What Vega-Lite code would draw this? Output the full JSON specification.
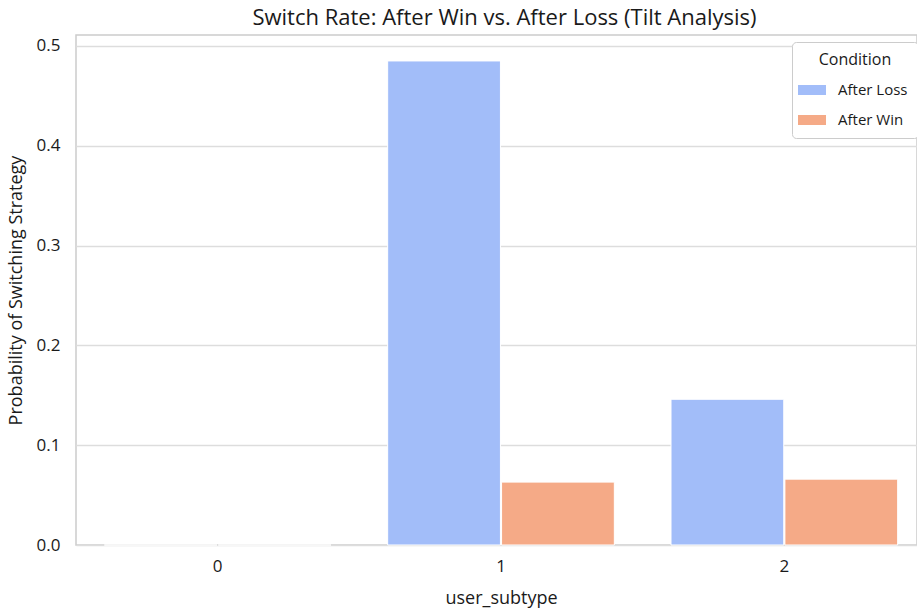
{
  "$schema": "https://vega.github.io/schema/vega-lite/v6.json",
  "width": 841,
  "height": 510,
  "autosize": {"type": "none"},
  "padding": {"left": 76, "top": 35, "right": 0, "bottom": 63},
  "background": "white",
  "title": {"text": "Switch Rate: After Win vs. After Loss (Tilt Analysis)", "fontSize": 22, "font": "Open Sans", "fontWeight": "normal", "color": "#1a1a1a", "offset": 5, "dx": 8},
  "config": {
    "view": {"stroke": "#cccccc", "strokeWidth": 1.5},
    "font": "Open Sans"
  },
  "data": {"values": [
    {"user_subtype": "0", "Condition": "After Loss", "rate": 0},
    {"user_subtype": "0", "Condition": "After Win", "rate": 0},
    {"user_subtype": "1", "Condition": "After Loss", "rate": 0.485},
    {"user_subtype": "1", "Condition": "After Win", "rate": 0.063},
    {"user_subtype": "2", "Condition": "After Loss", "rate": 0.146},
    {"user_subtype": "2", "Condition": "After Win", "rate": 0.066}
  ]},
  "mark": {"type": "bar", "stroke": "white", "strokeWidth": 1},
  "encoding": {
    "x": {"field": "user_subtype", "type": "nominal", "title": "user_subtype",
      "scale": {"range": [0, 850], "paddingInner": 0.2, "paddingOuter": 0.1},
      "axis": {"labelAngle": 0, "labelFontSize": 17, "titleFontSize": 18, "titleFontWeight": "normal", "labelColor": "#1a1a1a", "titleColor": "#1a1a1a", "ticks": false, "domain": false, "labelPadding": 13, "titlePadding": 15, "grid": false}},
    "xOffset": {"field": "Condition", "type": "nominal", "scale": {"paddingInner": 0.01}},
    "y": {"field": "rate", "type": "quantitative", "title": "Probability of Switching Strategy",
      "scale": {"domain": [0, 0.511], "nice": false},
      "axis": {"values": [0, 0.1, 0.2, 0.3, 0.4, 0.5], "format": ".1f", "labelFontSize": 17, "titleFontSize": 18, "titleFontWeight": "normal", "labelColor": "#1a1a1a", "titleColor": "#1a1a1a", "ticks": false, "domain": false, "labelPadding": 16, "titlePadding": 11, "gridColor": "#dddddd", "gridWidth": 1.3}},
    "color": {"field": "Condition", "type": "nominal",
      "scale": {"domain": ["After Loss", "After Win"], "range": ["#a2bdf9", "#f5aa87"]},
      "legend": {"orient": "none", "legendX": 716, "legendY": 7, "title": "Condition", "titleFontSize": 16, "titleFontWeight": "normal", "titleColor": "#1a1a1a", "titleAnchor": "middle", "titleAlign": "center", "labelFontSize": 15, "labelColor": "#1a1a1a", "padding": 10, "strokeColor": "#cccccc", "fillColor": "white", "cornerRadius": 4, "symbolType": "M-1.4,-0.5H1.4V0.5H-1.4Z", "symbolSize": 400, "symbolStrokeWidth": 0, "symbolOpacity": 1, "labelOffset": 16, "rowPadding": 12, "titlePadding": 12, "labelLimit": 200}}
  }
}
